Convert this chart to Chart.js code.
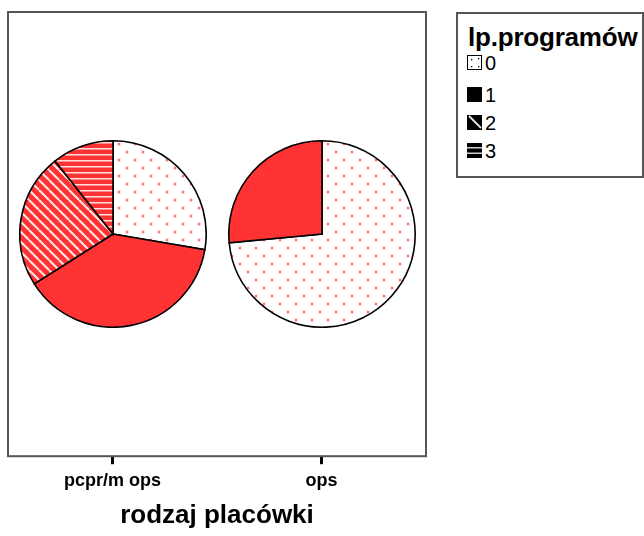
<!DOCTYPE html>
<html>
<head>
<meta charset="utf-8">
<script src="https://cdn.jsdelivr.net/npm/chart.js@4"></script>
<style>
  body { margin: 0; background: #fff; font-family: "Liberation Sans", Arial, sans-serif; }
  #wrap { position: relative; width: 644px; height: 536px; overflow: hidden; }
  #wrap canvas { position: absolute; }
  #legend { position: absolute; left: 456px; top: 12px; width: 184px; height: 162px;
            border: 2px solid #555; background: #fff; }
  #legend .title { position: absolute; left: 10px; top: 8px; font-weight: bold; font-size: 26px;
                   letter-spacing: -0.2px; white-space: nowrap; color: #000; }
  #legend .row { position: absolute; left: 9px; height: 16px; font-size: 20px; line-height: 16px; color: #000; }
  #legend .row canvas { position: absolute; left: 0; top: 0; }
  #legend .row span { position: absolute; left: 18px; top: 0; }
</style>
</head>
<body>
<div id="wrap">
  <canvas id="axisChart" width="644" height="536"></canvas>
  <canvas id="pie0" width="188" height="188"></canvas>
  <canvas id="pie1" width="188" height="188"></canvas>
  <div id="legend"><div class="title">lp.programów</div></div>
</div>
<script>
// data
const categories = ['pcpr/m ops', 'ops'];
const programLevels = ['0', '1', '2', '3'];
const pcprShares = [27.7, 38.3, 23.3, 10.7];
const opsShares = [73.5, 26.5, 0, 0];
const axisTitle = 'rodzaj placówki';
const legendTitle = 'lp.programów';

const RED = '#ff3333';

// patterns for the slices
function makeTile(w, h, draw) {
    const c = document.createElement('canvas');
    c.width = w; c.height = h;
    draw(c.getContext('2d'), w, h);
    return c;
}
function slicePattern(level) {
    const ctx = document.createElement('canvas').getContext('2d');
    let tile;
    if (level === 0) {
        tile = makeTile(16, 16, (g, w, h) => {
            g.fillStyle = '#fff'; g.fillRect(0, 0, w, h);
            g.fillStyle = 'rgba(255,110,110,0.9)';
            g.beginPath(); g.arc(4, 4, 1.5, 0, Math.PI * 2); g.fill();
            g.beginPath(); g.arc(12, 12, 1.5, 0, Math.PI * 2); g.fill();
        });
    } else if (level === 1) {
        return RED;
    } else if (level === 2) {
        tile = makeTile(10, 10, (g, w, h) => {
            g.fillStyle = RED; g.fillRect(0, 0, w, h);
            g.strokeStyle = 'rgba(255,255,255,0.9)'; g.lineWidth = 2;
            for (const o of [-10, 0, 10]) {
                g.beginPath(); g.moveTo(o, 0); g.lineTo(o + 10, 10); g.stroke();
            }
        });
    } else {
        tile = makeTile(6, 6, (g, w, h) => {
            g.fillStyle = RED; g.fillRect(0, 0, w, h);
            g.fillStyle = 'rgba(255,255,255,0.85)'; g.fillRect(0, 2, w, 1.5);
        });
    }
    return ctx.createPattern(tile, 'repeat');
}
const sliceFills = programLevels.map((l, i) => slicePattern(i));

// frame around the plot area
const framePlugin = {
    id: 'frame',
    afterDraw(chart) {
        const a = chart.chartArea, g = chart.ctx;
        g.save();
        g.strokeStyle = '#555'; g.lineWidth = 2;
        g.strokeRect(a.left, a.top, a.right - a.left, a.bottom - a.top);
        g.restore();
    }
};

const axisChart = new Chart(document.getElementById('axisChart'), {
    type: 'bar',
    data: { labels: categories, datasets: [] },
    options: {
        responsive: false,
        animation: false,
        events: [],
        layout: { padding: { left: 8, top: 12, right: 218, bottom: 5 } },
        plugins: { legend: { display: false }, tooltip: { enabled: false } },
        scales: {
            x: {
                offset: true,
                border: { display: false },
                grid: { offset: false, drawOnChartArea: false, drawTicks: true,
                        tickLength: 8, tickWidth: 3, tickColor: '#000' },
                ticks: { color: '#000', padding: 6, maxRotation: 0,
                         font: { family: 'Liberation Sans', size: 18, weight: 'bold' } },
                title: { display: true, text: axisTitle, color: '#000', padding: { top: 2, bottom: 0 },
                         font: { family: 'Liberation Sans', size: 26, weight: 'bold' } }
            },
            y: { display: false, min: 0, max: 1 }
        }
    },
    plugins: [framePlugin]
});

// place one pie per category, centred on its tick
const shareSets = [pcprShares, opsShares];
const area = axisChart.chartArea;
const midY = (area.top + area.bottom) / 2;
shareSets.forEach((shares, i) => {
    const cv = document.getElementById('pie' + i);
    const cx = axisChart.scales.x.getPixelForValue(i);
    cv.style.left = (cx - cv.width / 2) + 'px';
    cv.style.top = (midY - cv.height / 2) + 'px';
    new Chart(cv, {
        type: 'pie',
        data: {
            labels: programLevels,
            datasets: [{
                data: shares,
                backgroundColor: sliceFills,
                borderColor: '#000',
                borderWidth: ctx => ctx.raw === 0 ? 0 : 1.6,
                borderJoinStyle: 'miter'
            }]
        },
        options: {
            responsive: false,
            animation: false,
            events: [],
            layout: { padding: 0 },
            plugins: { legend: { display: false }, tooltip: { enabled: false } }
        }
    });
});

// legend with black pattern swatches
function drawSwatch(g, level) {
    const s = 15;
    if (level === 0) {
        g.fillStyle = '#fff'; g.fillRect(0, 0, s, s);
        g.strokeStyle = '#000'; g.lineWidth = 1; g.strokeRect(0.5, 0.5, s - 1, s - 1);
        g.fillStyle = '#000';
        [[4, 4], [11, 3], [4, 11], [11, 11]].forEach(p => g.fillRect(p[0], p[1], 1.3, 1.3));
    } else if (level === 1) {
        g.fillStyle = '#000'; g.fillRect(0, 0, s, s);
    } else if (level === 2) {
        g.fillStyle = '#000'; g.fillRect(0, 0, s, s);
        g.strokeStyle = '#ddd'; g.lineWidth = 2;
        g.beginPath(); g.moveTo(2, 1); g.lineTo(14, 13); g.stroke();
    } else {
        g.fillStyle = '#000'; g.fillRect(0, 0, s, s);
        g.fillStyle = '#ccc'; g.fillRect(0, 4, s, 1.5); g.fillRect(0, 9.5, s, 1.5);
    }
}
const legendEl = document.getElementById('legend');
legendEl.querySelector('.title').textContent = legendTitle;
const rowTops = [41, 73, 101, 129];
programLevels.forEach((lvl, i) => {
    const row = document.createElement('div');
    row.className = 'row';
    row.style.top = rowTops[i] + 'px';
    const sw = document.createElement('canvas');
    sw.width = 15; sw.height = 15;
    drawSwatch(sw.getContext('2d'), i);
    const tx = document.createElement('span');
    tx.textContent = lvl;
    row.appendChild(sw); row.appendChild(tx);
    legendEl.appendChild(row);
});
</script>
</body>
</html>
